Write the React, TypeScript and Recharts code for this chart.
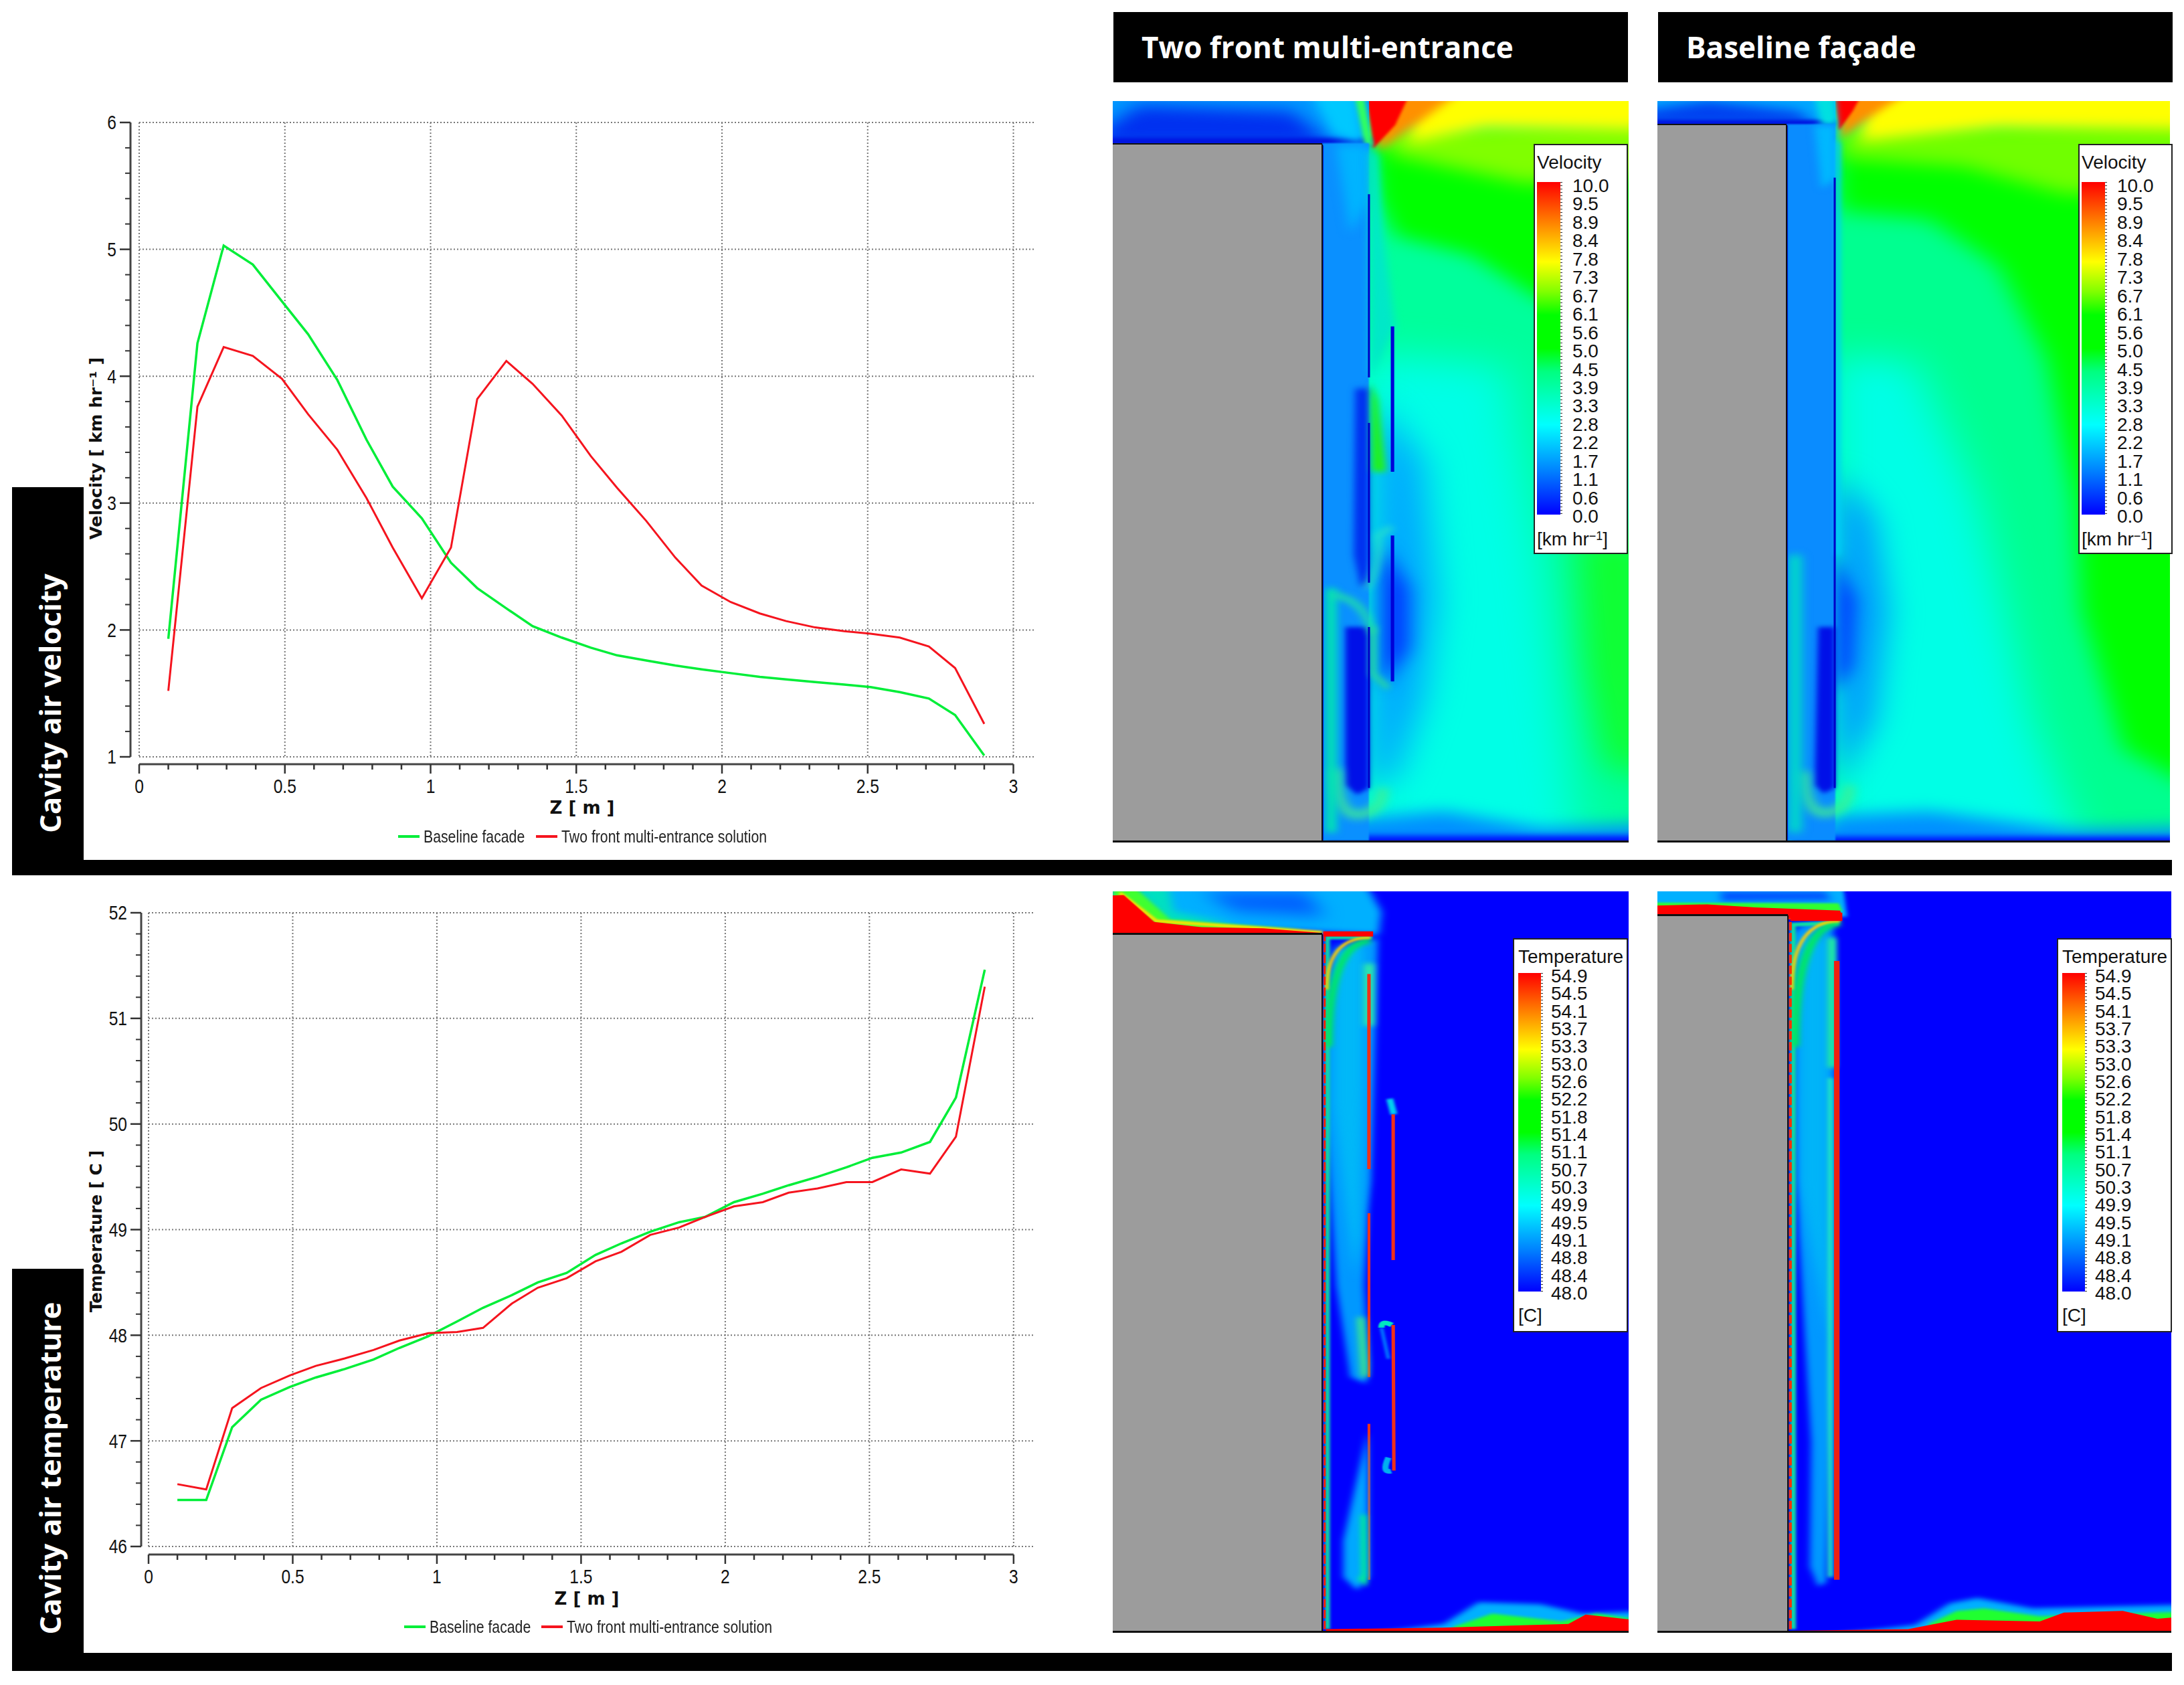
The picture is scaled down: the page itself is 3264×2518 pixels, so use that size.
import React from "react"
import { LineChart, Line, XAxis, YAxis, CartesianGrid, Legend } from "recharts"

const zValues = [0.1, 0.2, 0.29, 0.39, 0.49, 0.58, 0.68, 0.78, 0.87, 0.97, 1.07, 1.16, 1.26, 1.35, 1.45, 1.55, 1.64, 1.74, 1.84, 1.93, 2.03, 2.13, 2.22, 2.32, 2.42, 2.51, 2.61, 2.71, 2.8, 2.9]

const velocityBaseline = [1.93, 4.26, 5.03, 4.88, 4.59, 4.33, 3.97, 3.5, 3.13, 2.88, 2.53, 2.33, 2.17, 2.03, 1.94, 1.86, 1.8, 1.76, 1.72, 1.69, 1.66, 1.63, 1.61, 1.59, 1.57, 1.55, 1.51, 1.46, 1.33, 1.01]
const velocityTwoFront = [1.52, 3.76, 4.23, 4.16, 3.98, 3.7, 3.42, 3.04, 2.65, 2.25, 2.65, 3.82, 4.12, 3.94, 3.69, 3.37, 3.12, 2.86, 2.57, 2.35, 2.22, 2.13, 2.07, 2.02, 1.99, 1.97, 1.94, 1.87, 1.7, 1.26]
const tempBaseline = [46.44, 46.44, 47.13, 47.39, 47.51, 47.6, 47.68, 47.77, 47.88, 47.99, 48.13, 48.26, 48.38, 48.5, 48.59, 48.76, 48.87, 48.98, 49.07, 49.12, 49.26, 49.34, 49.42, 49.5, 49.59, 49.68, 49.73, 49.83, 50.25, 51.46]
const tempTwoFront = [46.59, 46.54, 47.31, 47.5, 47.62, 47.71, 47.78, 47.86, 47.95, 48.02, 48.03, 48.07, 48.3, 48.45, 48.54, 48.7, 48.79, 48.95, 49.02, 49.12, 49.22, 49.26, 49.35, 49.39, 49.45, 49.45, 49.57, 49.53, 49.88, 51.3]

const zTicks = [0, 0.1, 0.2, 0.3, 0.4, 0.5, 0.6, 0.7, 0.8, 0.9, 1, 1.1, 1.2, 1.3, 1.4, 1.5, 1.6, 1.7, 1.8, 1.9, 2, 2.1, 2.2, 2.3, 2.4, 2.5, 2.6, 2.7, 2.8, 2.9, 3]
const zMajor = [0, 0.5, 1, 1.5, 2, 2.5, 3]
const velocityTicks = [1, 1.2, 1.4, 1.6, 1.8, 2, 2.2, 2.4, 2.6, 2.8, 3, 3.2, 3.4, 3.6, 3.8, 4, 4.2, 4.4, 4.6, 4.8, 5, 5.2, 5.4, 5.6, 5.8, 6]
const velocityMajor = [1, 2, 3, 4, 5, 6]
const tempTicks = [46, 46.2, 46.4, 46.6, 46.8, 47, 47.2, 47.4, 47.6, 47.8, 48, 48.2, 48.4, 48.6, 48.8, 49, 49.2, 49.4, 49.6, 49.8, 50, 50.2, 50.4, 50.6, 50.8, 51, 51.2, 51.4, 51.6, 51.8, 52]
const tempMajor = [46, 47, 48, 49, 50, 51, 52]

const velocityScale = ["10.0", "9.5", "8.9", "8.4", "7.8", "7.3", "6.7", "6.1", "5.6", "5.0", "4.5", "3.9", "3.3", "2.8", "2.2", "1.7", "1.1", "0.6", "0.0"]
const tempScale = ["54.9", "54.5", "54.1", "53.7", "53.3", "53.0", "52.6", "52.2", "51.8", "51.4", "51.1", "50.7", "50.3", "49.9", "49.5", "49.1", "48.8", "48.4", "48.0"]

const GREEN = "#00ee38"
const RED = "#f5141e"
const SANS = '"Liberation Sans", sans-serif'
const BOLD = '"DejaVu Sans", sans-serif'
const RAINBOW = "linear-gradient(to bottom, #ff0000 0%, #ff8000 12%, #ffff00 24%, #80ff00 33%, #00ff00 40%, #00ff00 50%, #00ff80 57%, #00ffff 73%, #0080ff 87%, #0000ff 100%)"

const toRows = (a: number[], b: number[]) => zValues.map((z, i) => ({ z, baseline: a[i], twoFront: b[i] }))

// the solver plots its axes a few pixels away from the plot box, so ticks draw their own offset
function xTick(axisLen: number, shift: number) {
  return ({ x, y, payload }: any) => {
    const major = zMajor.includes(payload.value)
    const ay = y + shift
    return (
      <g>
        {payload.value === 0 && <line x1={x} x2={x + axisLen} y1={ay} y2={ay} stroke="#444" strokeWidth={3} />}
        <line x1={x} x2={x} y1={ay} y2={ay + (major ? 14 : 8)} stroke="#333" strokeWidth={2.5} />
        {major && (
          <text transform={`translate(${x},${ay + 33}) scale(0.82,1)`} textAnchor="middle" dominantBaseline="central" fontSize={30} fontFamily={SANS} fill="#111">
            {payload.value}
          </text>
        )}
      </g>
    )
  }
}

function yTick(majors: number[], axisLen: number, shift: number) {
  return ({ x, y, payload }: any) => {
    const major = majors.includes(payload.value)
    const ax = x + shift
    return (
      <g>
        {payload.value === majors[0] && <line x1={ax} x2={ax} y1={y} y2={y - axisLen} stroke="#444" strokeWidth={3} />}
        <line x1={ax - (major ? 16 : 8)} x2={ax} y1={y} y2={y} stroke="#333" strokeWidth={major ? 2.5 : 2} />
        {major && (
          <text transform={`translate(${ax - 21},${y}) scale(0.82,1)`} textAnchor="end" dominantBaseline="central" fontSize={30} fontFamily={SANS} fill="#111">
            {payload.value}
          </text>
        )}
      </g>
    )
  }
}

function LegendRow({ payload, secondAt }: any) {
  const label: any = { position: "absolute", top: 0, lineHeight: "32px", fontFamily: SANS, fontSize: 25, color: "#222", whiteSpace: "nowrap", transform: "scaleX(0.85)", transformOrigin: "left" }
  return (
    <div style={{ position: "relative", height: 32 }}>
      {(payload || []).map((p: any, i: number) => {
        const left = i === 0 ? 0 : secondAt
        return (
          <React.Fragment key={p.value}>
            <div style={{ position: "absolute", left, top: 14, width: 32, height: 4, background: p.color }} />
            <div style={{ ...label, left: left + 38 }}>{p.value}</div>
          </React.Fragment>
        )
      })}
    </div>
  )
}

function ProfileChart(props: any) {
  const { rows, top, bottom, left, yDomain, yTicks, yMajor, yLabel, yLabelY, yLabelSize, xLabelX, xLabelY, xShift, yShift, legendX, legendY, legendGap, y0, h } = props
  const right = 1545
  const pxPerUnit = (right - left) / 3.07
  return (
    <div style={{ position: "absolute", left: 0, top: y0, width: 1600, height: h }}>
      <LineChart
        width={1600}
        height={h}
        data={rows}
        margin={{ left: left - 1, right: 1600 - right, top: top - y0, bottom: y0 + h - bottom - 1 }}
      >
        <CartesianGrid stroke="#777" strokeWidth={2} strokeDasharray="2 3" verticalValues={zMajor} horizontalValues={yMajor} />
        <XAxis
          dataKey="z"
          type="number"
          domain={[0, 3.07]}
          ticks={zTicks}
          interval={0}
          height={1}
          axisLine={false}
          tickLine={false}
          tickSize={0}
          tickMargin={0}
          tick={xTick(pxPerUnit * 3, xShift)}
          label={() => (
            <text x={xLabelX} y={xLabelY - y0} textAnchor="middle" dominantBaseline="central" fontSize={26} fontWeight={700} fontFamily={BOLD} fill="#111">
              Z [ m ]
            </text>
          )}
        />
        <YAxis
          type="number"
          domain={yDomain}
          ticks={yTicks}
          interval={0}
          width={1}
          axisLine={false}
          tickLine={false}
          tickSize={0}
          tickMargin={0}
          tick={yTick(yMajor, bottom - top, yShift)}
          label={() => (
            <text transform={`translate(143,${yLabelY - y0}) rotate(-90)`} textAnchor="middle" dominantBaseline="central" fontSize={yLabelSize} fontWeight={700} fontFamily={BOLD} fill="#111">
              {yLabel}
            </text>
          )}
        />
        <Legend
          layout="horizontal"
          verticalAlign="middle"
          align="center"
          wrapperStyle={{ left: legendX, top: legendY - y0 - 16, width: 620, height: 32 }}
          content={(p: any) => <LegendRow payload={p.payload} secondAt={legendGap} />}
        />
        <Line dataKey="baseline" name="Baseline facade" type="linear" stroke={GREEN} strokeWidth={3.5} dot={false} isAnimationActive={false} />
        <Line dataKey="twoFront" name="Two front multi-entrance solution" type="linear" stroke={RED} strokeWidth={3} dot={false} isAnimationActive={false} />
      </LineChart>
    </div>
  )
}

type Blob = { d: string; fill?: string; stroke?: string; w?: number; blur?: number; dash?: string; op?: number }

const rect = (x0: number, y0: number, x1: number, y1: number) => `M${x0},${y0} L${x1},${y0} L${x1},${y1} L${x0},${y1} Z`

const velOne: Blob[] = [
  { d: rect(0, 100, 900, 1600), fill: "#00ff9c" },
  { d: "M690,960 L800,960 L800,1400 L730,1380 L700,1200 Z", fill: "#10ff30", blur: 28 },
  { d: "M420,640 L590,660 L640,1000 L670,1300 L700,1560 L380,1560 L380,640 Z", fill: "#00ffe6", blur: 34 },
  { d: "M400,720 L470,830 L490,1080 L470,1260 L430,1400 L390,1420 Z", fill: "#00a8ff", blur: 26 },
  { d: "M410,980 L450,1060 L450,1170 L410,1240 Z", fill: "#0038ff", blur: 14 },
  { d: "M330,1480 L500,1462 L640,1492 L800,1484 L800,1560 L330,1560 Z", fill: "#0090ff", blur: 14 },
  { d: rect(330, 1506, 800, 1560), fill: "#0010ff", blur: 5 },
  { d: "M395,250 L800,250 L800,590 L640,540 L540,460 L430,425 L405,360 Z", fill: "#00ff00", blur: 16 },
  { d: "M400,235 L800,215 L800,310 L620,330 L430,280 Z", fill: "#80ff00", blur: 16 },
  { d: "M450,150 L800,150 L800,235 L560,230 L450,258 Z", fill: "#ffff00", blur: 12 },
  { d: "M400,150 L540,150 L470,215 L405,272 Z", fill: "#ff9000", blur: 8 },
  { d: "M385,150 L458,150 L430,225 L398,268 Z", fill: "#ff0000", blur: 2 },
  { d: rect(0, 150, 392, 262), fill: "#0098ff" },
  { d: "M60,190 L280,200 L340,262 L0,262 L0,240 Z", fill: "#0030f0", blur: 14 },
  { d: rect(0, 248, 395, 262), fill: "#0010e0", blur: 4 },
  { d: "M300,150 L372,150 L385,262 L340,240 Z", fill: "#00c8ff", blur: 8 },
  { d: "M372,176 L385,176 L398,262 L386,262 Z", fill: "#30ff60", blur: 3 },
  { d: rect(325, 258, 392, 1515), fill: "#0a90ff", blur: 1 },
  { d: "M345,262 L392,262 L392,360 L365,420 Z", fill: "#00b4ff", blur: 8 },
  { d: "M392,270 L405,280 L412,420 L430,590 L395,680 Z", fill: "#00e8c8", blur: 6 },
  { d: "M372,700 L392,700 L392,1050 L380,1058 L370,1000 Z", fill: "#0030f0", blur: 5 },
  { d: "M358,1130 L392,1130 L392,1420 L375,1432 L358,1415 Z", fill: "#0010e8", blur: 4 },
  { d: "M345,1385 Q345,1468 375,1468 Q412,1465 412,1420", stroke: "#40f090", w: 16, blur: 7, op: 0.8 },
  { d: rect(330, 1060, 345, 1500), fill: "#00e8b0", blur: 6 },
  { d: "M395,690 L405,720 L417,850 L396,850 Z", fill: "#20f020", blur: 5 },
  { d: "M340,1072 Q385,1080 397,1140", stroke: "#20e8a0", w: 11, blur: 6, op: 0.85 },
  { d: "M388,1060 Q410,1020 405,965 L425,950", stroke: "#30e8c0", w: 9, blur: 6, op: 0.8 },
  { d: "M398,1130 L398,1215 L420,1240", stroke: "#30e090", w: 9, blur: 5, op: 0.85 },
  { d: "M392,350 L392,680 M392,762 L392,1050 M392,1130 L392,1420", stroke: "#0000c8", w: 3 },
  { d: "M426,588 L426,850 M426,965 L426,1228", stroke: "#0000d8", w: 5 },
  { d: "M325,262 L325,1515", stroke: "#0020e0", w: 3 },
]

const velTwo: Blob[] = [
  { d: rect(700, 100, 1700, 1600), fill: "#00ff90" },
  { d: "M1065,250 L1600,230 L1600,1430 L1480,1350 L1420,1100 L1410,900 L1370,650 L1300,480 L1200,395 L1070,380 Z", fill: "#00ff00", blur: 18 },
  { d: "M1060,640 L1180,650 L1270,900 L1350,1300 L1430,1560 L1060,1560 Z", fill: "#00ffe6", blur: 32 },
  { d: "M1066,850 L1120,930 L1140,1100 L1120,1300 L1066,1420 Z", fill: "#0098ff", blur: 24 },
  { d: "M1066,1000 L1095,1080 L1090,1200 L1066,1250 Z", fill: "#0040ff", blur: 12 },
  { d: "M1066,1470 L1200,1462 L1400,1495 L1600,1490 L1600,1560 L1000,1560 Z", fill: "#0090ff", blur: 14 },
  { d: rect(1000, 1508, 1600, 1560), fill: "#0010ff", blur: 5 },
  { d: "M1070,235 L1600,215 L1600,330 L1400,350 L1250,300 L1075,285 Z", fill: "#70ff00", blur: 16 },
  { d: "M1110,150 L1600,150 L1600,235 L1300,230 L1100,255 Z", fill: "#ffff00", blur: 12 },
  { d: "M1075,150 L1190,150 L1110,215 L1072,250 Z", fill: "#ff9000", blur: 7 },
  { d: "M1060,150 L1112,150 L1090,200 L1070,235 Z", fill: "#ff0000", blur: 2 },
  { d: rect(700, 150, 1065, 226), fill: "#00a8ff" },
  { d: "M880,182 L1010,200 L1040,226 L700,226 L700,215 Z", fill: "#0040f0", blur: 10 },
  { d: rect(700, 216, 1065, 226), fill: "#0010e0", blur: 3 },
  { d: "M1030,150 L1062,150 L1068,226 L1045,226 Z", fill: "#00e0e0", blur: 5 },
  { d: rect(995, 224, 1065, 1515), fill: "#0a8cff", blur: 1 },
  { d: "M1035,226 L1066,226 L1066,320 L1045,340 Z", fill: "#00b8ff", blur: 6 },
  { d: "M1065,250 L1072,260 L1072,1000 L1065,1000 Z", fill: "#00c8ff", blur: 4 },
  { d: "M1040,1130 L1064,1130 L1064,1420 L1048,1430 L1035,1415 Z", fill: "#0010e8", blur: 4 },
  { d: "M1020,1390 Q1020,1465 1050,1465 Q1085,1462 1085,1415", stroke: "#40f090", w: 16, blur: 7, op: 0.8 },
  { d: rect(998, 1000, 1016, 1500), fill: "#00dcc8", blur: 7 },
  { d: "M1064,320 L1064,1420", stroke: "#0000c8", w: 3 },
  { d: "M995,226 L995,1515", stroke: "#0020e0", w: 3 },
]

const tmpOne: Blob[] = [
  { d: rect(0, 0, 900, 1600), fill: "#0000ff" },
  { d: "M0,20 L385,20 L410,80 L406,125 L300,118 L150,110 L0,110 Z", fill: "#00b0ff", blur: 6 },
  { d: "M150,41 L300,41 L330,90 L200,80 Z", fill: "#0060ff", blur: 14 },
  { d: "M45,20 L100,20 L110,80 L200,105 L100,105 Z", fill: "#00e0c0", blur: 7 },
  { d: "M22,30 L52,30 L105,95 L300,115 L22,118 Z", fill: "#40ff30", blur: 3 },
  { d: "M32,44 L85,98 L325,120", stroke: "#ffe000", w: 6, blur: 2 },
  { d: "M0,50 L38,48 L82,100 L150,110 L240,112 L325,121 L0,125 Z", fill: "#ff0000", blur: 1 },
  { d: "M330,260 Q330,140 395,135 L405,130 L395,600 L390,660 L385,800 L392,950 L388,988 L365,975 L345,800 L330,500 Z", fill: "#0098ff", blur: 5 },
  { d: "M340,450 L340,150 L385,140 L385,400 L380,700 L370,780 Z", fill: "#00b8f8", blur: 8 },
  { d: "M332,1460 L332,130 L396,130", stroke: "#10e0a0", w: 7, blur: 2 },
  { d: "M334,340 Q334,140 394,136", stroke: "#00e860", w: 11, blur: 4 },
  { d: "M331,230 Q331,130 394,130", stroke: "#ffd000", w: 5, blur: 2 },
  { d: "M328,1460 L328,124", stroke: "#ff2000", w: 3, dash: "16 5" },
  { d: rect(326, 118, 398, 128), fill: "#ff0000" },
  { d: "M392,180 L392,300", stroke: "#30f0a0", w: 14, blur: 5 },
  { d: "M392,200 L392,420 M392,420 L392,575", stroke: "#f03018", w: 5 },
  { d: "M392,660 L392,975 M392,1065 L392,1365", stroke: "#f03018", w: 4 },
  { d: "M380,860 L386,975", stroke: "#40f080", w: 10, blur: 5 },
  { d: "M390,1080 L392,1360 L375,1385 L355,1360 L355,1290 Z", fill: "#00a8ff", blur: 5 },
  { d: "M378,1360 L385,1368 L384,1240", stroke: "#00f090", w: 8, blur: 4 },
  { d: "M422,440 L428,470", stroke: "#00d0f0", w: 10, blur: 2 },
  { d: "M410,880 Q410,865 425,875", stroke: "#00e8c0", w: 9, blur: 1 },
  { d: "M410,880 L420,940", stroke: "#0080ff", w: 5, blur: 2 },
  { d: "M420,1130 Q410,1160 424,1156", stroke: "#00b0f0", w: 9, blur: 1 },
  { d: "M427,470 L427,750 M427,875 L428,1155", stroke: "#f03018", w: 5 },
  { d: "M500,1450 L550,1408 L640,1412 L700,1430 L800,1425 L800,1480 L330,1480 Z", fill: "#00b0ff", blur: 5 },
  { d: "M515,1455 L570,1430 L670,1445 L720,1430 L800,1445 L800,1480 L500,1480 Z", fill: "#20ff30", blur: 3 },
  { d: "M330,1460 L500,1457 L680,1450 L705,1432 L800,1446 L800,1480 L330,1480 Z", fill: "#ff0000", blur: 0.7 },
]

const tmpTwo: Blob[] = [
  { d: rect(700, 0, 1700, 1600), fill: "#0000ff" },
  { d: "M700,20 L1075,20 L1082,90 L700,80 Z", fill: "#00b0ff", blur: 3 },
  { d: "M900,41 L1050,41 L1060,58 L900,60 Z", fill: "#0050ff", blur: 6 },
  { d: "M700,62 L1070,64 L1075,80 L700,80 Z", fill: "#30ff30", blur: 2 },
  { d: "M700,72 L880,66 L950,72 L1072,78 L1075,95 L700,95 Z", fill: "#ff0000", blur: 0.6 },
  { d: "M1003,130 Q1003,100 1062,100 L1064,600 L1062,1000 L1052,1370 L1040,1378 L1028,1340 L1030,1100 L1012,700 Z", fill: "#0098ff", blur: 5 },
  { d: "M1012,600 L1012,130 L1055,130 L1055,900 Z", fill: "#00b4f8", blur: 8 },
  { d: "M1004,1460 L1004,105 L1070,102", stroke: "#10e0a0", w: 8, blur: 2 },
  { d: "M1007,340 Q1007,106 1072,102", stroke: "#00e860", w: 12, blur: 4 },
  { d: "M1002,230 Q1002,98 1072,98", stroke: "#ffd000", w: 5, blur: 2 },
  { d: "M1000,1460 L1000,92", stroke: "#ff3000", w: 4, dash: "16 5" },
  { d: rect(1000, 82, 1075, 98), fill: "#ff0000" },
  { d: "M1060,130 L1060,380", stroke: "#20f0a0", w: 12, blur: 4 },
  { d: "M1058,400 L1058,1360", stroke: "#20e8c0", w: 8, blur: 3 },
  { d: "M1067,175 L1067,1365", stroke: "#f02010", w: 8 },
  { d: "M1180,1452 L1230,1410 L1270,1400 L1350,1420 L1600,1412 L1600,1480 L1000,1480 Z", fill: "#00b0ff", blur: 5 },
  { d: "M1200,1450 L1240,1425 L1280,1420 L1360,1435 L1600,1425 L1600,1480 L1200,1480 Z", fill: "#20ff30", blur: 3 },
  { d: "M1000,1463 L1170,1460 L1240,1442 L1360,1445 L1395,1428 L1480,1425 L1530,1440 L1600,1432 L1600,1480 L1000,1480 Z", fill: "#ff0000", blur: 0.7 },
]

function Field({ blobs, viewBox, x, y, w, h }: any) {
  return (
    <svg viewBox={viewBox} preserveAspectRatio="none" width={w} height={h} style={{ position: "absolute", left: x, top: y, overflow: "hidden" }}>
      {blobs.map((b: Blob, i: number) => (
        <path
          key={i}
          d={b.d}
          fill={b.stroke ? "none" : b.fill}
          stroke={b.stroke}
          strokeWidth={b.w}
          strokeDasharray={b.dash}
          opacity={b.op}
          style={b.blur ? { filter: `blur(${b.blur}px)` } : undefined}
        />
      ))}
    </svg>
  )
}

function Box({ x, y, w, h, c }: any) {
  return <div style={{ position: "absolute", left: x, top: y, width: w, height: h, background: c }} />
}

function ColorBar({ x, y, w, h, title, labels, unit, barX, barY, barW, barH, labelX, firstY, stepY, unitY }: any) {
  const common: any = { position: "absolute", fontFamily: SANS, color: "#111", lineHeight: 1, whiteSpace: "nowrap" }
  return (
    <>
      <div style={{ position: "absolute", left: x, top: y, width: w, height: h, background: "#fff", border: "2px solid #222", boxSizing: "border-box" }} />
      <div style={{ ...common, left: barX, top: y + 14, fontSize: 28 }}>{title}</div>
      <div style={{ position: "absolute", left: barX, top: barY, width: barW, height: barH, background: RAINBOW }} />
      <div style={{ position: "absolute", left: barX + barW, top: barY, width: 3, height: barH, background: "repeating-linear-gradient(to bottom, #333 0 1px, transparent 1px 5px)" }} />
      {labels.map((t: string, i: number) => (
        <div key={t} style={{ ...common, left: labelX, top: firstY + i * stepY - 14, fontSize: 28 }}>{t}</div>
      ))}
      <div style={{ ...common, left: barX, top: unitY - 14, fontSize: 28 }}>{unit}</div>
    </>
  )
}

function RotLabel({ cx, cy, text }: any) {
  return (
    <div style={{ position: "absolute", left: cx, top: cy, transform: "translate(-50%,-50%) rotate(-90deg)", color: "#fff", fontFamily: '"Open Sans", sans-serif', fontWeight: 700, fontSize: 43.5, whiteSpace: "nowrap" }}>
      {text}
    </div>
  )
}

function Header({ x, text }: any) {
  return (
    <div style={{ position: "absolute", left: x, top: 18, width: 769, height: 105, background: "#000", color: "#fff", fontFamily: '"Open Sans", sans-serif', fontWeight: 700, fontSize: 44, lineHeight: "105px", paddingLeft: 42, boxSizing: "border-box", whiteSpace: "nowrap" }}>
      {text}
    </div>
  )
}

const unitVelocity = <span>[km hr<sup style={{ fontSize: 18, verticalAlign: "top" }}>−1</sup>]</span>

export default function App() {
  return (
    <div style={{ position: "absolute", left: 0, top: 0, width: 3264, height: 2518, background: "#fff", overflow: "hidden" }}>
      <ProfileChart y0={100} h={1190} rows={toRows(velocityBaseline, velocityTwoFront)} top={183} bottom={1131} left={208} yDomain={[1, 6]} yTicks={velocityTicks} yMajor={velocityMajor} yLabel="Velocity [ km hr⁻¹ ]" yLabelY={670} yLabelSize={25.5} xLabelX={870} xLabelY={1207} xShift={11} yShift={-13} legendX={595} legendY={1250} legendGap={206} />
      <ProfileChart y0={1310} h={1160} rows={toRows(tempBaseline, tempTwoFront)} top={1364} bottom={2311} left={222} yDomain={[46, 52]} yTicks={tempTicks} yMajor={tempMajor} yLabel="Temperature [ C ]" yLabelY={1840} yLabelSize={24.5} xLabelX={877} xLabelY={2389} xShift={12} yShift={-11} legendX={604} legendY={2431} legendGap={205} />

      <Box x={18} y={728} w={107} h={580} c="#000" />
      <Box x={18} y={1896} w={107} h={600} c="#000" />
      <Box x={18} y={1285} w={3228} h={23} c="#000" />
      <Box x={18} y={2470} w={3228} h={27} c="#000" />
      <RotLabel cx={74} cy={1051} text="Cavity air velocity" />
      <RotLabel cx={74} cy={2194} text="Cavity air temperature" />

      <Header x={1664} text="Two front multi-entrance" />
      <Header x={2478} text="Baseline façade" />

      <Field blobs={velOne} viewBox="22 182 745 1335" x={1663} y={151} w={771} h={1107} />
      <Box x={1663} y={216} w={313} h={1040} c="#9c9c9c" />
      <Box x={1663} y={214} w={313} h={2} c="#111" />
      <Box x={1975} y={216} w={2} h={1040} c="#111" />
      <Box x={1663} y={1256} w={771} h={3} c="#111" />

      <Field blobs={velTwo} viewBox="808 182 740 1335" x={2477} y={151} w={766} h={1107} />
      <Box x={2477} y={187} w={193} h={1069} c="#9c9c9c" />
      <Box x={2477} y={185} w={193} h={2} c="#111" />
      <Box x={2669} y={187} w={2} h={1069} c="#111" />
      <Box x={2477} y={1256} w={766} h={3} c="#111" />

      <Field blobs={tmpOne} viewBox="22 41 745 1426" x={1663} y={1332} w={771} h={1108} />
      <Box x={1663} y={1396} w={313} h={1041} c="#9c9c9c" />
      <Box x={1663} y={1394} w={313} h={3} c="#111" />
      <Box x={1975} y={1396} w={2} h={1041} c="#111" />
      <Box x={1663} y={2437} w={771} h={3} c="#111" />

      <Field blobs={tmpTwo} viewBox="808 41 742 1426" x={2477} y={1332} w={768} h={1108} />
      <Box x={2477} y={1368} w={195} h={1069} c="#9c9c9c" />
      <Box x={2477} y={1366} w={195} h={3} c="#111" />
      <Box x={2671} y={1368} w={2} h={1069} c="#111" />
      <Box x={2477} y={2437} w={768} h={3} c="#111" />

      <ColorBar x={2292} y={215} w={141} h={613} title="Velocity" labels={velocityScale} unit={unitVelocity} barX={2297} barY={272} barW={35} barH={497} labelX={2350} firstY={278} stepY={27.45} unitY={806} />
      <ColorBar x={3106} y={215} w={141} h={613} title="Velocity" labels={velocityScale} unit={unitVelocity} barX={3111} barY={272} barW={35} barH={497} labelX={3164} firstY={278} stepY={27.45} unitY={806} />
      <ColorBar x={2261} y={1402} w={172} h={589} title="Temperature" labels={tempScale} unit="[C]" barX={2269} barY={1454} barW={34} barH={476} labelX={2318} firstY={1459} stepY={26.33} unitY={1966} />
      <ColorBar x={3074} y={1402} w={172} h={589} title="Temperature" labels={tempScale} unit="[C]" barX={3082} barY={1454} barW={34} barH={476} labelX={3131} firstY={1459} stepY={26.33} unitY={1966} />
    </div>
  )
}
